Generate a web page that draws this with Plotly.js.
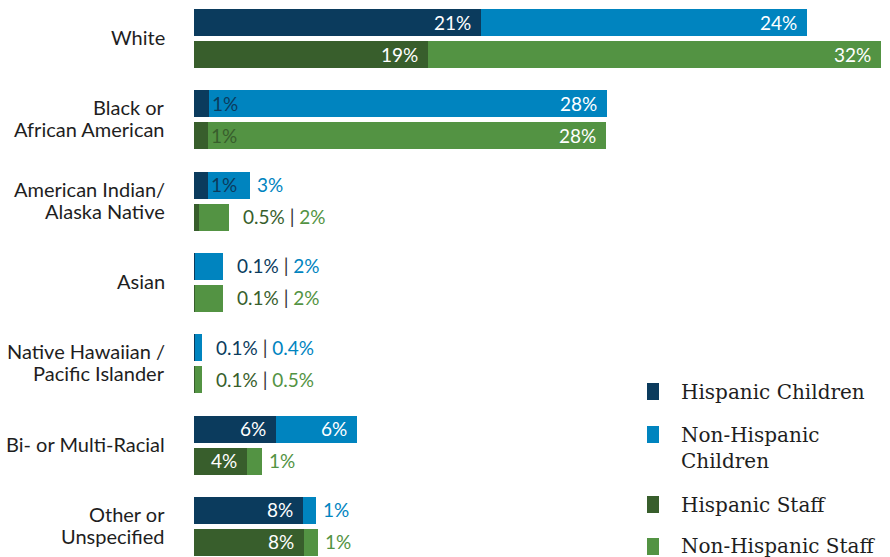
<!DOCTYPE html>
<html><head><meta charset="utf-8">
<script src="https://cdn.plot.ly/plotly-3.0.1.min.js"></script>
<style>html,body{margin:0;padding:0;background:#fff;overflow:hidden}</style>
</head><body><div id="chart" style="width:890px;height:557px"></div>
<script>
// ---- data ----
const categories = ["White", "Black or<br>African American", "American Indian/<br>Alaska Native", "Asian", "Native Hawaiian /<br>Pacific Islander", "Bi- or Multi-Racial", "Other or<br>Unspecified"];
const hispanicChildren    = [21.1, 1.1, 1.0, 0.1, 0.1, 6.0, 8.0];
const nonHispanicChildren = [24.0, 29.3, 3.1, 2.0, 0.5, 6.0, 1.0];
const hispanicStaff       = [17.2, 1.0, 0.4, 0.1, 0.1, 3.9, 8.1];
const nonHispanicStaff    = [33.3, 29.3, 2.2, 2.0, 0.5, 1.1, 1.0];
const hispanicChildrenLabels    = ["21%", "1%", "1%", "0.1%", "0.1%", "6%", "8%"];
const nonHispanicChildrenLabels = ["24%", "28%", "3%", "2%", "0.4%", "6%", "1%"];
const hispanicStaffLabels       = ["19%", "1%", "0.5%", "0.1%", "0.1%", "4%", "8%"];
const nonHispanicStaffLabels    = ["32%", "28%", "2%", "2%", "0.5%", "1%", "1%"];
const seriesNames = ["Hispanic Children", "Non-Hispanic<br>Children", "Hispanic Staff", "Non-Hispanic Staff"];

// ---- style / layout constants ----
const C = {hc: "#0b3b5d", nc: "#0084bf", hs: "#385e2c", ns: "#539343", bar: "#333333"};
const W = 890, H = 557, L = 194;
const PX_PER_PCT = 13.6;
const GROUP = 81.33, CH_OFF = 22.5, ST_OFF = 54.5, BAR_W = 27;
const FONT = "Lato, 'Open Sans', sans-serif";
const LFONT = "'DejaVu Serif', serif";

const childY = categories.map((_, i) => CH_OFF + GROUP * i);
const staffY = categories.map((_, i) => ST_OFF + GROUP * i);

function barTrace(x, y, color) {
  return {type: "bar", orientation: "h", x: x, y: y, width: BAR_W,
          marker: {color: color, line: {width: 0}}, showlegend: false, hoverinfo: "skip"};
}
const traces = [
  barTrace(hispanicChildren, childY, C.hc),
  barTrace(nonHispanicChildren, childY, C.nc),
  barTrace(hispanicStaff, staffY, C.hs),
  barTrace(nonHispanicStaff, staffY, C.ns)
];

const ann = [];
function a(x, y, text, color, anchor, shift) {
  ann.push({x: x, y: y, xref: "x", yref: "y", text: text, showarrow: false,
            xanchor: anchor, yanchor: "middle", xshift: shift, yshift: 0.5,
            font: {family: FONT, size: 19, color: color}});
}
function rowLabels(h, n, hl, nl, y, hCol, nCol) {
  const total = h + n;
  if (h >= 3) {
    a(h, y, hl, "#ffffff", "right", -8);
  } else if (n >= 2.5) {
    a(h, y, hl, hCol, "left", 1);
  } else {
    a(total, y, `<span style="color:${hCol}">${hl}</span> <span style="color:${C.bar}">|</span> <span style="color:${nCol}">${nl}</span>`, nCol, "left", 12);
    return;
  }
  if (n >= 5) a(total, y, nl, "#ffffff", "right", -8);
  else a(total, y, nl, nCol, "left", 5);
}
categories.forEach((cat, i) => {
  rowLabels(hispanicChildren[i], nonHispanicChildren[i], hispanicChildrenLabels[i], nonHispanicChildrenLabels[i], childY[i], C.hc, C.nc);
  rowLabels(hispanicStaff[i], nonHispanicStaff[i], hispanicStaffLabels[i], nonHispanicStaffLabels[i], staffY[i], C.hs, C.ns);
  const lines = cat.split("<br>");
  const yc = (childY[i] + staffY[i]) / 2;
  lines.forEach((ln, k) => {
    const off = (k - (lines.length - 1) / 2) * 22;
    ann.push({x: 0, xref: "paper", y: yc, yref: "y", text: ln,
              showarrow: false, xanchor: "right", yanchor: "middle", xshift: -27, yshift: 1.5 - off,
              font: {family: FONT, size: 20, color: "#1e1e1e"}});
  });
});

// custom legend
const px = v => (v - L) / (W - L);
const py = v => 1 - v / H;
const legendColors = [C.hc, C.nc, C.hs, C.ns];
const legendBoxes = [[383, 400], [426, 443], [496, 513], [538, 555]];
const legendTextY = [392, 448, 505, 546];
const shapes = [];
legendColors.forEach((col, i) => {
  shapes.push({type: "rect", xref: "paper", yref: "paper", x0: px(647), x1: px(659),
               y0: py(legendBoxes[i][1]), y1: py(legendBoxes[i][0]), fillcolor: col, line: {width: 0}});
  ann.push({xref: "paper", yref: "paper", x: px(679), y: py(legendTextY[i]), text: seriesNames[i],
            showarrow: false, xanchor: "left", yanchor: "middle", align: "left",
            font: {family: LFONT, size: 20, color: "#1e1e1e"}});
});

const layout = {
  width: W, height: H, barmode: "stack", bargap: 0,
  margin: {l: L, r: 0, t: 0, b: 0, pad: 0},
  paper_bgcolor: "#ffffff", plot_bgcolor: "#ffffff",
  xaxis: {range: [0, (W - L) / PX_PER_PCT], visible: false, fixedrange: true},
  yaxis: {range: [H, 0], visible: false, fixedrange: true},
  annotations: ann, shapes: shapes, showlegend: false
};
Plotly.newPlot("chart", traces, layout, {staticPlot: true, displayModeBar: false});
</script></body></html>
